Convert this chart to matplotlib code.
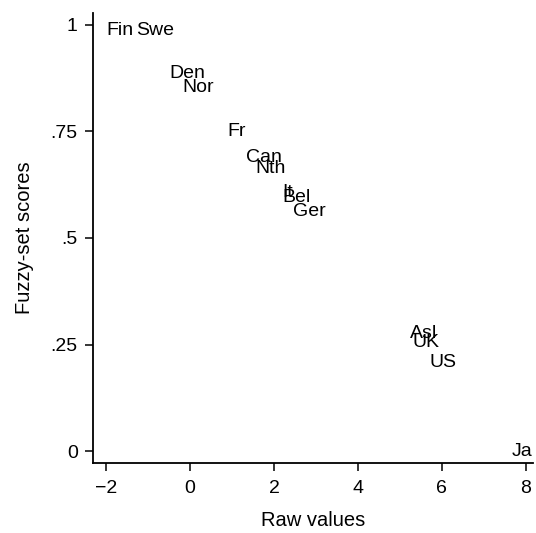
import matplotlib
matplotlib.use("Agg")
import matplotlib.pyplot as plt

# country labels and their (raw value, fuzzy score) positions
countries = ["Fin", "Swe", "Den", "Nor", "Fr", "Can", "Nth", "It", "Bel", "Ger", "Asl", "UK", "US", "Ja"]
raw_vals = [-1.98, -1.29, -0.48, -0.17, 0.90, 1.33, 1.55, 2.19, 2.19, 2.45, 5.24, 5.31, 5.71, 7.67]
fuzzy = [0.986, 0.986, 0.887, 0.854, 0.751, 0.690, 0.664, 0.607, 0.595, 0.563, 0.277, 0.254, 0.207, 0.0]

xticks = [-2, 0, 2, 4, 6, 8]
xtick_labels = ["\u22122", "0", "2", "4", "6", "8"]
yticks = [0, 0.25, 0.5, 0.75, 1]
ytick_labels = ["0", ".25", ".5", ".75", "1"]

plt.rcParams["font.family"] = ["Liberation Sans", "DejaVu Sans"]

fig = plt.figure(figsize=(5.36, 5.33), dpi=100)
ax = fig.add_axes([93 / 536, 1 - 463 / 533, 440 / 536, 450 / 533])

for name, x, y in zip(countries, raw_vals, fuzzy):
    ax.text(x, y, name, ha="left", va="center", fontsize=14, color="black")

ax.set_xlim(-2.31, 8.17)
ax.set_ylim(-0.028, 1.028)

ax.spines["top"].set_visible(False)
ax.spines["right"].set_visible(False)
for s in ("left", "bottom"):
    ax.spines[s].set_linewidth(1.3)

ax.set_xticks(xticks)
ax.set_xticklabels(xtick_labels)
ax.set_yticks(yticks)
ax.set_yticklabels(ytick_labels)
ax.tick_params(axis="both", direction="out", length=6, width=1.1, labelsize=14)
ax.tick_params(axis="x", pad=6)
ax.tick_params(axis="y", pad=5)

ax.set_xlabel("Raw values", fontsize=14.5, labelpad=10)
ax.set_ylabel("Fuzzy-set scores", fontsize=14.5, labelpad=12)

fig.savefig("out.png", dpi=100)
